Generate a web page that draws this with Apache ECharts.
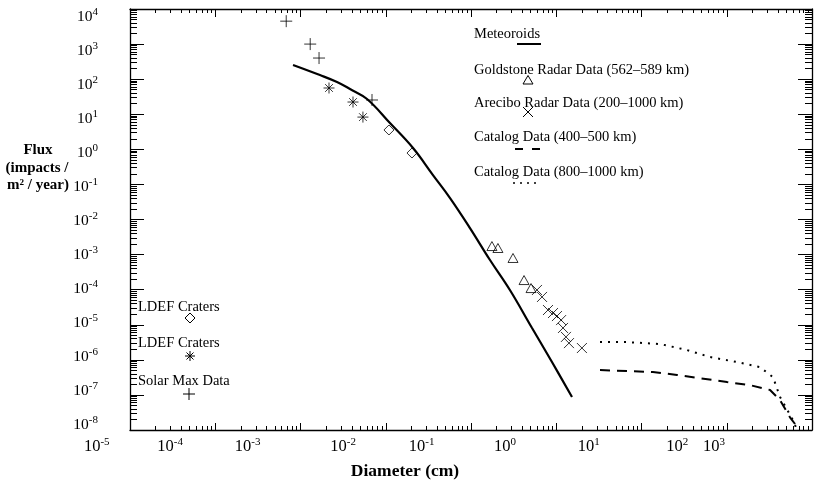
<!DOCTYPE html>
<html><head><meta charset="utf-8">
<script src="https://cdn.jsdelivr.net/npm/echarts@6/dist/echarts.min.js"></script>
<style>html,body{margin:0;padding:0;background:#fff}#c{width:820px;height:482px}</style>
</head><body><div id="c"></div>
<script>
// ---------------- data (diameter in cm, flux in impacts / m^2 / year) ----------------
const meteoroidD    = [8.17e-4, 1.69e-3, 2.68e-3, 3.81e-3, 6.03e-3, 1.12e-2, 2.09e-2, 3.58e-2, 5.68e-2, 9.73e-2, 0.167, 0.286, 0.520, 0.891, 1.53];
const meteoroidFlux = [254, 131, 83, 52.4, 27.2, 5.62, 1.09, 0.185, 0.0409, 5.71e-3, 7.0e-4, 9.77e-5, 8.05e-6, 8.65e-7, 8.7e-8];
const solarMaxD     = [6.8e-4, 1.3e-3, 1.65e-3, 6.9e-3];
const solarMaxFlux  = [4.5e3, 1.0e3, 4.0e2, 25.5];
const ldefStarD     = [2.16e-3, 4.13e-3, 5.4e-3];
const ldefStarFlux  = [56, 22.3, 8.3];
const ldefDiaD      = [1.09e-2, 2.03e-2];
const ldefDiaFlux   = [3.56, 0.785];
const goldstoneD    = [0.176, 0.207, 0.311, 0.419, 0.506];
const goldstoneFlux = [1.75e-3, 1.54e-3, 8.0e-4, 1.88e-4, 1.11e-4];
const areciboD      = [0.594, 0.681, 0.80, 0.916, 1.02, 1.14, 1.2, 1.3, 1.41, 2.0];
const areciboFlux   = [9.8e-5, 6.2e-5, 2.63e-5, 2.16e-5, 1.77e-5, 1.36e-5, 8.1e-6, 4.5e-6, 3.0e-6, 2.17e-6];
const cat800D       = [3.26, 6.76, 16.5, 34.2, 63.7, 132, 245, 349, 422, 599, 667, 723];
const cat800Flux    = [3.21e-6, 3.2e-6, 2.82e-6, 1.9e-6, 1.2e-6, 8.65e-7, 6.2e-7, 3.2e-7, 8.7e-8, 1.9e-8, 1e-8, 5.1e-9];
const cat400D       = [3.26, 6.76, 13.6, 26.1, 48.5, 100.7, 187, 322, 422, 552, 686, 743];
const cat400Flux    = [5.1e-7, 4.8e-7, 4.5e-7, 3.7e-7, 3.0e-7, 2.33e-7, 1.9e-7, 1.38e-7, 7.1e-8, 2.3e-8, 1.14e-8, 3.7e-9];
// tick labels
const xTickExp   = ['-5', '-4', '-3', '-2', '-1', '0', '1', '2', '3'];
const xTickAtLog = [-5.39, -4.53, -3.62, -2.50, -1.58, -0.60, 0.38, 1.42, 1.85]; // where the figure prints them (log10 cm)
const yTickExp   = [4, 3, 2, 1, 0, -1, -2, -3, -4, -5, -6, -7, -8];
// ---------------------------------------------------------------------------------------

const FONT = 'Liberation Serif';
const zip = (a, b) => a.map((v, i) => [v, b[i]]);
const majorX = [], minorX = [], majorY = [], minorY = [];
for (let k = -5; k <= 3; k++) majorX.push(Math.pow(10, k));
for (let k = -5; k < 3; k++) for (let m = 2; m <= 9; m++) minorX.push(m * Math.pow(10, k));
for (let k = -8; k <= 4; k++) majorY.push(Math.pow(10, k));
for (let k = -8; k < 4; k++) for (let m = 2; m <= 9; m++) minorY.push(m * Math.pow(10, k));

const PLUS = 'path://M0,5L10,5M5,0L5,10';
const CROSS = 'path://M0,0L10,10M10,0L0,10';
const STAR = 'path://M0,5L10,5M5,0L5,10M1.5,1.5L8.5,8.5M8.5,1.5L1.5,8.5';
const TRI = 'path://M5,0L10,9L0,9Z';
const DIA = 'path://M5,0L10,5L5,10L0,5Z';
const ms = {color: 'transparent', borderColor: '#000', borderWidth: 1};

function tickAxis(gridIndex, pos, type, min, max, vals, len, showLine) {
  return {
    type: 'log', logBase: 10, gridIndex, position: pos, min, max,
    axisLine: {show: showLine, onZero: false, lineStyle: {color: '#000', width: 1.3}},
    axisTick: {show: true, inside: true, length: len, customValues: vals, lineStyle: {color: '#000', width: 1}},
    axisLabel: {show: false}, splitLine: {show: false}, minorTick: {show: false}
  };
}
const richX = {
  b: {fontFamily: FONT, fontSize: 16.5, color: '#000'},
  s: {fontFamily: FONT, fontSize: 11, color: '#000', padding: [0, 0, 9, 0]}
};
const richY = {
  b: {fontFamily: FONT, fontSize: 15.5, color: '#000'},
  s: {fontFamily: FONT, fontSize: 11, color: '#000', padding: [0, 0, 9, 0]}
};

const xAxes = [
  tickAxis(0, 'bottom', 'log', 1e-5, 1e3, majorX, 7, true),
  tickAxis(0, 'bottom', 'log', 1e-5, 1e3, minorX, 4, false),
  tickAxis(0, 'top', 'log', 1e-5, 1e3, majorX, 8, true),
  tickAxis(0, 'top', 'log', 1e-5, 1e3, minorX, 4, false),
  {type: 'value', gridIndex: 1, show: false},
  {
    type: 'log', logBase: 10, gridIndex: 2, position: 'bottom', min: 1e-6, max: 1e3,
    axisLine: {show: false}, axisTick: {show: false}, splitLine: {show: false},
    axisLabel: {
      show: true, margin: 7, customValues: xTickAtLog.map(v => Math.pow(10, v)),
      formatter: v => {
        const lv = Math.log10(v);
        let idx = 0, best = 1e9;
        xTickAtLog.forEach((a, i) => { const d = Math.abs(a - lv); if (d < best) { best = d; idx = i; } });
        return '{b|10}{s|' + xTickExp[idx] + '}';
      },
      rich: richX
    }
  }
];
const yAxes = [
  tickAxis(0, 'left', 'log', 1e-8, 1e4, majorY, 14, true),
  tickAxis(0, 'left', 'log', 1e-8, 1e4, minorY, 7, false),
  tickAxis(0, 'right', 'log', 1e-8, 1e4, majorY, 14, true),
  tickAxis(0, 'right', 'log', 1e-8, 1e4, minorY, 7, false),
  {
    type: 'log', logBase: 10, gridIndex: 1, position: 'left', min: 1e-8, max: 1e4,
    axisLine: {show: false}, axisTick: {show: false}, splitLine: {show: false},
    axisLabel: {
      show: true, margin: 32, customValues: yTickExp.map(e => Math.pow(10, e)),
      formatter: v => '{b|10}{s|' + Math.round(Math.log10(v)) + '}',
      rich: richY
    }
  },
  {type: 'value', gridIndex: 2, show: false}
];

function sc(d, f, sym, size) {
  return {type: 'scatter', xAxisIndex: 0, yAxisIndex: 0, data: zip(d, f), symbol: sym, symbolSize: size,
          symbolKeepAspect: true, itemStyle: ms, silent: true, z: 5};
}
function ln(d, f, type, width, smooth) {
  return {type: 'line', xAxisIndex: 0, yAxisIndex: 0, data: zip(d, f), symbol: 'none', smooth: smooth || false,
          lineStyle: {color: '#000', width, type, cap: 'butt'}, silent: true, clip: true, z: 4};
}

const T = (text, x, y, extra) => Object.assign({type: 'text', x, y, silent: true,
  style: Object.assign({text, fill: '#000', font: '14.5px "' + FONT + '"', align: 'left', verticalAlign: 'middle'}, extra || {})});
const L = (x1, y1, x2, y2, w) => ({type: 'line', silent: true, shape: {x1, y1, x2, y2}, style: {stroke: '#000', lineWidth: w || 1}});

const graphics = [
  // y axis title
  T('Flux', 38, 150, {font: 'bold 15px "' + FONT + '"', align: 'center'}),
  T('(impacts /', 37, 168, {font: 'bold 15px "' + FONT + '"', align: 'center'}),
  T('m² / year)', 38, 185, {font: 'bold 15px "' + FONT + '"', align: 'center'}),
  // x axis title
  T('Diameter (cm)', 405, 471, {font: 'bold 17.5px "' + FONT + '"', align: 'center'}),
  // legend (top)
  T('Meteoroids', 474, 34),
  L(517, 44, 541, 44, 2),
  T('Goldstone Radar Data (562–589 km)', 474, 70),
  {type: 'polygon', silent: true, shape: {points: [[528, 75.5], [533, 84], [523, 84]]}, style: {fill: 'none', stroke: '#000', lineWidth: 1}},
  T('Arecibo Radar Data (200–1000 km)', 474, 103),
  L(523, 107, 533, 117), L(533, 107, 523, 117),
  T('Catalog Data (400–500 km)', 474, 137),
  L(515, 149, 523, 149, 2), L(532, 149, 540, 149, 2),
  T('Catalog Data (800–1000 km)', 474, 172),
  {type: 'circle', silent: true, shape: {cx: 514, cy: 183, r: 1}, style: {fill: '#000'}},
  {type: 'circle', silent: true, shape: {cx: 521, cy: 183, r: 1}, style: {fill: '#000'}},
  {type: 'circle', silent: true, shape: {cx: 528, cy: 183, r: 1}, style: {fill: '#000'}},
  {type: 'circle', silent: true, shape: {cx: 535, cy: 183, r: 1}, style: {fill: '#000'}},
  // left annotations
  T('LDEF Craters', 138, 307),
  {type: 'polygon', silent: true, shape: {points: [[190, 313], [195, 318], [190, 323], [185, 318]]}, style: {fill: 'none', stroke: '#000', lineWidth: 1}},
  T('LDEF Craters', 138, 343),
  L(185, 356, 195, 356), L(190, 351, 190, 361), L(186.5, 352.5, 193.5, 359.5), L(193.5, 352.5, 186.5, 359.5),
  T('Solar Max Data', 138, 381),
  L(183, 394, 195, 394), L(189, 388, 189, 400)
];

const chart = echarts.init(document.getElementById('c'), null, {renderer: 'canvas'});
chart.setOption({
  animation: false,
  backgroundColor: '#fff',
  grid: [
    {left: 130, top: 9, width: 682, height: 421, containLabel: false},
    {left: 130, top: 17, width: 682, height: 408, containLabel: false},
    {left: 44.75, top: 9, width: 767.25, height: 421, containLabel: false}
  ],
  xAxis: xAxes,
  yAxis: yAxes,
  series: [
    ln(meteoroidD, meteoroidFlux, 'solid', 2.2, 0.4),
    ln(cat400D, cat400Flux, [10, 7], 2),
    ln(cat800D, cat800Flux, [2, 6], 2),
    sc(solarMaxD, solarMaxFlux, PLUS, 12),
    sc(ldefStarD, ldefStarFlux, STAR, 11),
    sc(ldefDiaD, ldefDiaFlux, DIA, 10),
    sc(goldstoneD, goldstoneFlux, TRI, 10),
    sc(areciboD, areciboFlux, CROSS, 10)
  ],
  graphic: graphics
});
</script></body></html>
